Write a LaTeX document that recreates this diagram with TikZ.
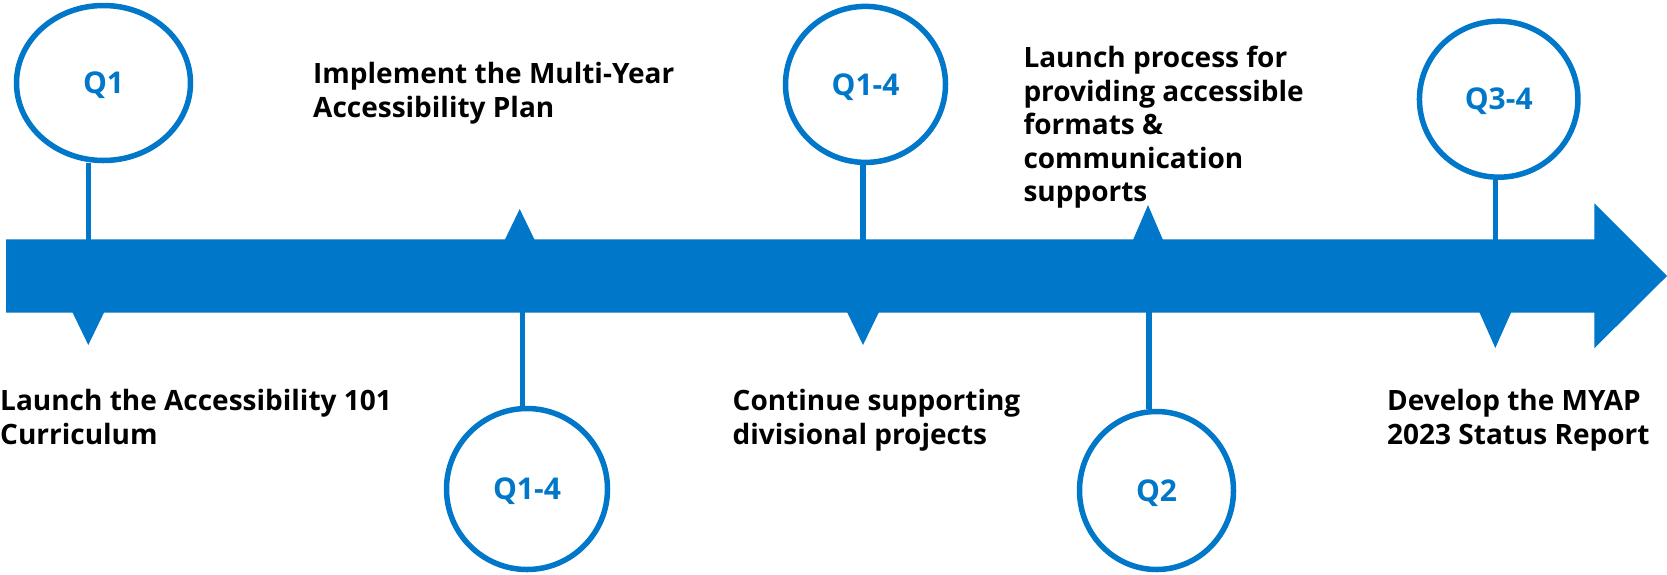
\documentclass[tikz,border=0pt]{standalone}
\usepackage{fontspec}
\setmainfont{Open Sans}
\usetikzlibrary{shapes.geometric}
\definecolor{tlblue}{RGB}{0,119,200}

\begin{document}
\begin{tikzpicture}[x=1pt, y=-1pt,
    quarter/.style = {draw=tlblue, line width=5.5pt, ellipse, inner sep=0, text=tlblue, text height=21.5pt, text depth=0pt, font=\bfseries\fontsize{30}{33}\selectfont},
    note/.style = {anchor=base west, align=left, inner sep=0, font=\bfseries\fontsize{28}{33.5}\selectfont},
    stem/.style = {draw=tlblue, line width=5.3pt}]
    \useasboundingbox (0,0) rectangle (1667,574);

    % timeline bar with arrow head
    \fill[tlblue] (6,239.3) -- (1594.3,239.3) -- (1594.3,203.3) -- (1667,276) -- (1594.3,348.3) -- (1594.3,312.7) -- (6,312.7) -- cycle;
    \foreach \x/\t in {88.3/345, 863/345, 1495.3/348}
        \fill[tlblue] (\x-16,312) -- (\x,\t) -- (\x+16,312) -- cycle;
    \foreach \x/\t in {519.7/209, 1148/205}
        \fill[tlblue] (\x-15,240) -- (\x,\t) -- (\x+15,240) -- cycle;

    \node[quarter, minimum width=174pt, minimum height=155pt] (q1) at (103.5,83) {Q1};
    \node[quarter, minimum width=160pt, minimum height=156pt] (q14a) at (865.5,84.4) {Q1-4};
    \node[quarter, minimum width=161pt, minimum height=161pt] (q14b) at (527,489) {Q1-4};
    \node[quarter, minimum width=154pt, minimum height=158pt] (q2) at (1156.5,490.5) {Q2};
    \node[quarter, minimum width=158.5pt, minimum height=156pt] (q34) at (1498.7,99.2) {Q3-4};

    \coordinate (f1) at (88.3,240);
    \coordinate (f2) at (522.7,312);
    \coordinate (f3) at (863,240);
    \coordinate (f4) at (1149,312);
    \coordinate (f5) at (1495.3,240);
    \draw[stem] (f1) -- (f1 |- q1.south);
    \draw[stem] (f2) -- (f2 |- q14b.north);
    \draw[stem] (f3) -- (f3 |- q14a.south);
    \draw[stem] (f4) -- (f4 |- q2.north);
    \draw[stem] (f5) -- (f5 |- q34.south);

    % base anchor sits on the last line
    \node[note] (launch) at (0,444) {Launch the Accessibility 101\\Curriculum};
    \node[note] (implement) at (313,117) {Implement the Multi-Year\\Accessibility Plan};
    \node[note] (continue) at (732.5,444) {Continue supporting\\divisional projects};
    \node[note] (formats) at (1023.3,201.7) {Launch process for\\providing accessible\\formats \&\\communication\\supports};
    \node[note] (develop) at (1387,444) {Develop the MYAP\\2023 Status Report};
\end{tikzpicture}
\end{document}
